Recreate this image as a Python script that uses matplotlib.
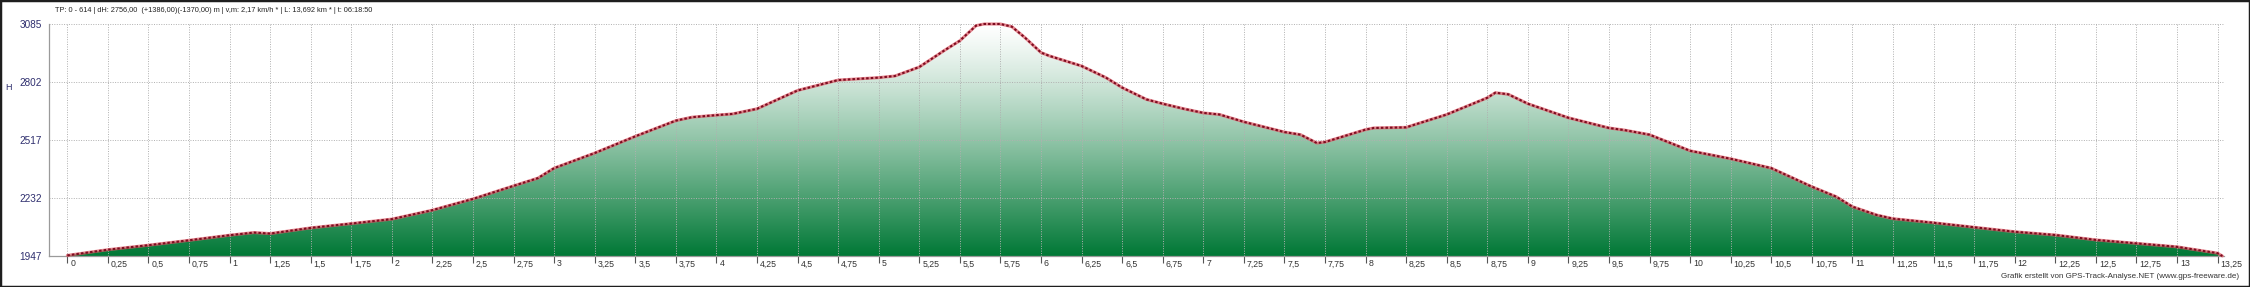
import numpy as np
import matplotlib.pyplot as plt
from matplotlib.patches import Rectangle
from matplotlib.transforms import ScaledTranslation

plt.rcParams['font.family'] = ['Liberation Sans', 'DejaVu Sans']

# Streckenprofil: Distanz (km) und Höhe (m)
km = [0.0, 0.25, 0.5, 0.75, 1.0, 1.15, 1.25, 1.5, 1.75, 2.0, 2.2, 2.25, 2.5, 2.75,
      2.9, 3.0, 3.25, 3.5, 3.75, 3.85, 4.0, 4.1, 4.25, 4.4, 4.5, 4.75, 5.0, 5.1,
      5.25, 5.4, 5.5, 5.6, 5.65, 5.75, 5.82, 5.9, 6.0, 6.05, 6.25, 6.4, 6.5, 6.65,
      6.75, 6.88, 7.0, 7.1, 7.25, 7.5, 7.6, 7.7, 7.75, 8.0, 8.05, 8.25, 8.5, 8.75,
      8.8, 8.88, 9.0, 9.25, 9.5, 9.6, 9.75, 10.0, 10.25, 10.5, 10.75, 10.9, 11.0,
      11.15, 11.25, 11.5, 11.75, 12.0, 12.25, 12.5, 12.75, 13.0, 13.25, 13.28]
hoehe = [1950, 1978, 2000, 2024, 2049, 2062, 2057, 2085, 2106, 2128, 2163, 2172, 2227, 2291,
         2329, 2378, 2452, 2534, 2611, 2628, 2638, 2644, 2669, 2723, 2759, 2810, 2822, 2830,
         2874, 2953, 3003, 3077, 3085, 3085, 3072, 3019, 2945, 2929, 2879, 2822, 2773, 2715,
         2694, 2669, 2649, 2641, 2605, 2555, 2542, 2501, 2506, 2567, 2575, 2578, 2641, 2723,
         2748, 2740, 2694, 2625, 2575, 2564, 2542, 2463, 2424, 2378, 2287, 2238, 2189,
         2148, 2130, 2110, 2088, 2066, 2050, 2026, 2009, 1992, 1961, 1947]

y_ticks = [1947, 2232, 2517, 2802, 3085]
x_ticks = np.arange(0, 13.26, 0.25)
x_labels = [f"{v:g}".replace('.', ',') for v in x_ticks]

titel = "TP: 0 - 614 | dH: 2756,00  (+1386,00)(-1370,00) m | v,m: 2,17 km/h * | L: 13,692 km * | t: 06:18:50"
credit = "Grafik erstellt von GPS-Track-Analyse.NET (www.gps-freeware.de)"

W, H = 2250, 287
fig = plt.figure(figsize=(W / 100, H / 100), dpi=100)
ax = fig.add_axes([49 / W, 31 / H, 2175 / W, 232 / H])

xmin, xmax = -0.113, 13.29
ymin, ymax = y_ticks[0], y_ticks[-1]
ax.set_xlim(xmin, xmax)
ax.set_ylim(ymin, ymax)

# Farbverlauf weiss -> gruen, auf die Profilflaeche beschnitten
f = np.linspace(0, 1, 300).reshape(-1, 1) ** 1.2
weiss = np.array([1.0, 1.0, 1.0])
gruen = np.array([0.0, 0.47, 0.21])
img = (weiss * (1 - f[..., None]) + gruen * f[..., None])
img = np.repeat(img, 2, axis=1)
poly = ax.fill_between(km, hoehe, ymin, color='none', lw=0)
im = ax.imshow(img, extent=[xmin, xmax, ymin, ymax], origin='upper', aspect='auto', zorder=1)
im.set_clip_path(poly.get_paths()[0], transform=ax.transData)

# Raster
for x in x_ticks:
    ax.axvline(x, color='#b0b0b0', lw=0.7, ls=(0, (1, 1.5)), zorder=2)
for y in y_ticks[1:]:
    ax.axhline(y, color='#b0b0b0', lw=0.7, ls=(0, (1, 1.5)), zorder=2)

# Profillinie
ax.plot(km, hoehe, color='#e0606c', lw=2.2, alpha=0.75, zorder=3, clip_on=False,
        solid_capstyle='round')
ax.plot(km, hoehe, color='#7d0c20', lw=1.5, ls=(0, (1.2, 1.0)), zorder=4, clip_on=False)

ax.set_xticks(x_ticks)
ax.set_xticklabels(x_labels, ha='left', fontsize=6.3, color='#333333')
ax.tick_params(axis='x', length=5, width=0.8, color='#555555', pad=1)
off = ScaledTranslation(3 / 100, 5 / 100, fig.dpi_scale_trans)
for lab in ax.get_xticklabels():
    lab.set_transform(lab.get_transform() + off)

ax.set_yticks(y_ticks)
ax.set_yticklabels([str(v) for v in y_ticks], fontsize=7.2, color='#2e2e6e')
ax.tick_params(axis='y', length=0, pad=5)

for s in ['top', 'right']:
    ax.spines[s].set_visible(False)
for s in ['left', 'bottom']:
    ax.spines[s].set_color('#9a9a9a')
    ax.spines[s].set_linewidth(0.9)

fig.text(8 / W, 1 - 88 / H, 'H', fontsize=6.5, color='#2e2e6e', ha='center', va='center')
fig.text(55 / W, 1 - 11 / H, titel, fontsize=5.3, color='#222222', ha='left', va='center')
fig.text(2239 / W, 1 - 276 / H, credit, fontsize=5.8, color='#333333', ha='right', va='center')

fig.patches.append(Rectangle((0, 0), 1, 1, transform=fig.transFigure, fill=False,
                             edgecolor='#1e1e1e', lw=2.5))

fig.savefig('out.png', dpi=100)
